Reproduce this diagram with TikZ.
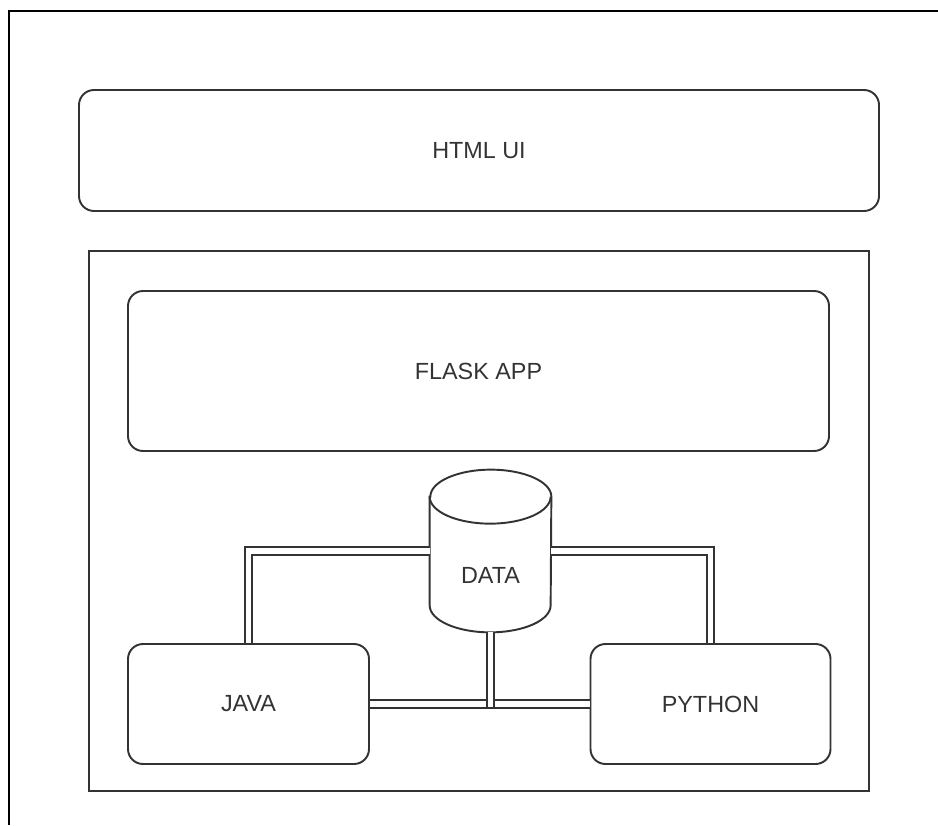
\documentclass[tikz,border=0pt]{standalone}
\usepackage{fontspec}
\setmainfont{Liberation Sans}
\usepackage{xcolor}
\usepackage{tikz}
\usetikzlibrary{positioning, calc}

\begin{document}
\begin{tikzpicture}[font=\fontsize{13.3}{16}\selectfont, text=black!80,
		roundbox/.style={draw=black!80, line width=1.1pt, rounded corners=0.3cm, align=center},
		plainbox/.style={draw=black!80, line width=1.1pt},
		link/.style={draw=black!80, line width=1.1pt, double=white, double distance=3.4pt}]
			\useasboundingbox (0,0) rectangle (18.76,16.5);
			% the cut frame round the whole page
			\draw[black, line width=1.5pt] (0.18,0) -- (0.18,16.28) -- (18.76,16.28);
			\node[roundbox, minimum width=16cm, minimum height=2.42cm] (html) at (9.58,13.49) {HTML UI};
			\node[plainbox, minimum width=15.6cm, minimum height=10.8cm] (server) at (9.58,6.08) {};
			\node[roundbox, minimum width=14.02cm, minimum height=3.2cm] (flask) at (9.57,9.08) {FLASK APP};
			\node[roundbox, minimum width=4.82cm, minimum height=2.4cm] (java) at (4.97,2.42) {JAVA};
			\node[roundbox, minimum width=4.8cm, minimum height=2.4cm] (python) at (14.21,2.42) {PYTHON};
			% data store, drawn as a cylinder
			\node[minimum width=2.42cm, minimum height=3.24cm, inner sep=0pt] (data) at (9.81,5.48) {};
			\draw[plainbox] ([yshift=-5.4mm]data.north west) -- ([yshift=5.4mm]data.south west)
			arc[start angle=180, end angle=360, x radius=12.1mm, y radius=5.4mm]
			-- ([yshift=-5.4mm]data.north east)
			arc[start angle=0, end angle=180, x radius=12.1mm, y radius=5.4mm] -- cycle;
			\draw[plainbox] ([yshift=-5.4mm]data.north west)
			arc[start angle=180, end angle=360, x radius=12.1mm, y radius=5.4mm];
			\node (datatext) at ([yshift=-4.8mm]data.center) {DATA};
			% links
			\draw[link] (java.north) |- (data.west);
			\draw[link] (python.north) |- (data.east);
			\draw[link] (java.east) -- (python.west);
			\coordinate (bus) at ($(data.south |- java.east)+(0,-1.7pt)$);
			\draw[link] (data.south) -- (bus);
		\end{tikzpicture}
\end{document}
